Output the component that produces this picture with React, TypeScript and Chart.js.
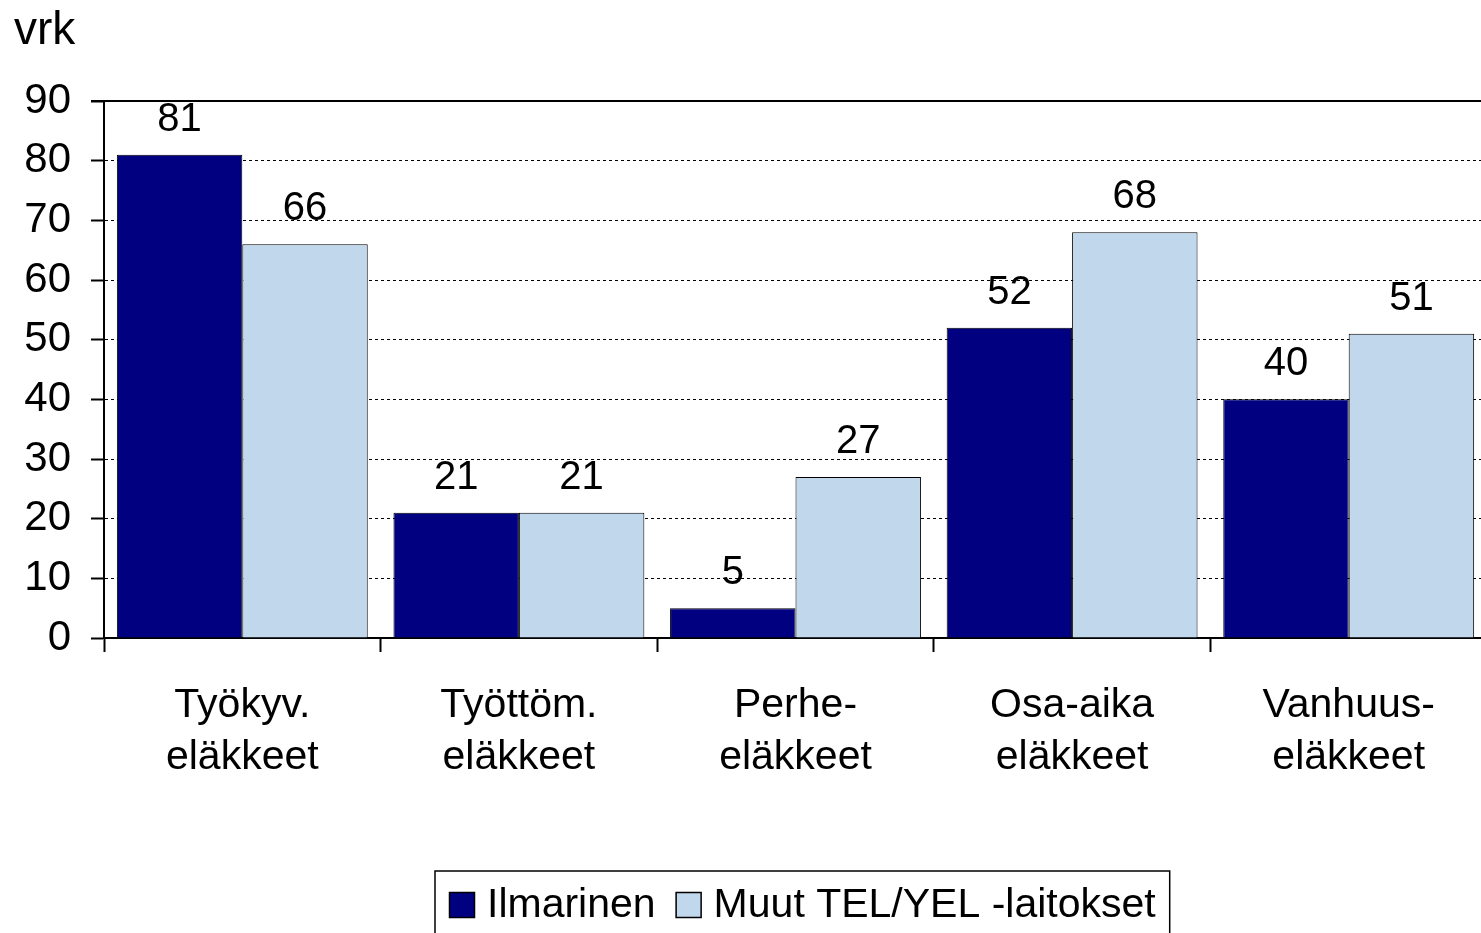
import React, { useEffect, useRef } from "react";
import { Chart, registerables } from "chart.js";

Chart.register(...registerables);

const FONT = "'Liberation Sans', Arial, sans-serif";

const categories: string[][] = [
  ["Työkyv.", "eläkkeet"],
  ["Työttöm.", "eläkkeet"],
  ["Perhe-", "eläkkeet"],
  ["Osa-aika", "eläkkeet"],
  ["Vanhuus-", "eläkkeet"],
];
const seriesNames = ["Ilmarinen", "Muut TEL/YEL -laitokset"];
const ilmarinen = [81, 21, 5, 52, 40];
const muut = [66, 21, 27, 68, 51];
const seriesColors = ["#000080", "#C0D7EC"];
const yMin = 0;
const yMax = 90;
const yStep = 10;
const yAxisTitle = "vrk";

const overlayPlugin = {
  id: "overlay",
  afterDatasetsDraw(chart: any) {
    const ctx = chart.ctx;
    ctx.save();
    ctx.font = `40px ${FONT}`;
    ctx.fillStyle = "#000";
    ctx.textAlign = "center";
    ctx.textBaseline = "alphabetic";
    chart.data.datasets.forEach((ds: any, di: number) => {
      const meta = chart.getDatasetMeta(di);
      meta.data.forEach((el: any, i: number) => {
        ctx.fillText(String(ds.data[i]), el.x, el.y - 24);
      });
    });
    ctx.restore();
  },
  afterDraw(chart: any) {
    const ctx = chart.ctx;
    const { left, right, top } = chart.chartArea;
    ctx.save();
    // solid top frame line
    ctx.strokeStyle = "#000";
    ctx.lineWidth = 2;
    ctx.beginPath();
    ctx.moveTo(left - 13, top);
    ctx.lineTo(right, top);
    ctx.stroke();

    // axis unit title
    ctx.fillStyle = "#000";
    ctx.font = `46px ${FONT}`;
    ctx.textAlign = "left";
    ctx.textBaseline = "alphabetic";
    ctx.fillText(yAxisTitle, 14, 44);

    // legend
    ctx.font = `41px ${FONT}`;
    ctx.textBaseline = "middle";
    const boxLeft = 435;
    const boxTop = 871;
    const cy = 905;
    let x = 449;
    chart.data.datasets.forEach((ds: any) => {
      ctx.fillStyle = ds.backgroundColor;
      ctx.fillRect(x, cy - 13, 26, 26);
      ctx.strokeStyle = "#000";
      ctx.lineWidth = 1.5;
      ctx.strokeRect(x + 0.5, cy - 12.5, 25, 25);
      ctx.fillStyle = "#000";
      ctx.fillText(ds.label, x + 38, cy + 1);
      const w = ctx.measureText(ds.label).width;
      x = x + 38 + w + 20;
    });
    const boxRight = x - 20 + 14;
    ctx.strokeStyle = "#000";
    ctx.lineWidth = 1.5;
    ctx.strokeRect(boxLeft, boxTop, boxRight - boxLeft, 100);
    ctx.restore();
  },
};

export default function App() {
  const canvasRef = useRef<HTMLCanvasElement | null>(null);

  useEffect(() => {
    const canvas = canvasRef.current;
    if (!canvas) return;
    const chart = new Chart(canvas, {
      type: "bar",
      data: {
        labels: categories,
        datasets: [
          {
            label: seriesNames[0],
            data: ilmarinen,
            backgroundColor: seriesColors[0],
            borderColor: "#000",
            borderWidth: 1,
            categoryPercentage: 0.907,
            barPercentage: 1,
          },
          {
            label: seriesNames[1],
            data: muut,
            backgroundColor: seriesColors[1],
            borderColor: "#000",
            borderWidth: 1,
            categoryPercentage: 0.907,
            barPercentage: 1,
          },
        ],
      },
      options: {
        responsive: false,
        animation: false,
        devicePixelRatio: 1,
        layout: { padding: { top: 101, left: 0, right: 13, bottom: 0 } },
        plugins: {
          legend: { display: false },
          tooltip: { enabled: false },
          title: { display: false },
        },
        scales: {
          x: {
            offset: true,
            grid: {
              offset: true,
              drawOnChartArea: false,
              drawTicks: true,
              tickLength: 14,
              tickWidth: 2,
              tickColor: "#000",
              color: "#000",
            },
            border: { display: true, color: "#000", width: 2 },
            ticks: {
              color: "#000",
              font: { family: FONT, size: 41, lineHeight: 1.27 },
              padding: 28,
              maxRotation: 0,
              autoSkip: false,
            },
            afterFit(scale: any) {
              scale.height = 933 - 638;
            },
          },
          y: {
            min: yMin,
            max: yMax,
            grid: {
              color: "#000",
              lineWidth: 1,
              tickLength: 13,
              tickWidth: 2,
              tickColor: "#000",
            },
            border: { display: true, color: "#000", width: 2, dash: [3, 3] },
            ticks: {
              stepSize: yStep,
              color: "#000",
              font: { family: FONT, size: 42 },
              padding: 20,
            },
            afterFit(scale: any) {
              scale.width = 104;
            },
          },
        },
      },
      plugins: [overlayPlugin],
    });
    return () => chart.destroy();
  }, []);

  return (
    <div
      style={{
        position: "fixed",
        left: 0,
        top: 0,
        width: 1481,
        height: 933,
        overflow: "hidden",
        background: "#fff",
      }}
    >
      <canvas ref={canvasRef} width={1500} height={933} style={{ display: "block" }} />
    </div>
  );
}
